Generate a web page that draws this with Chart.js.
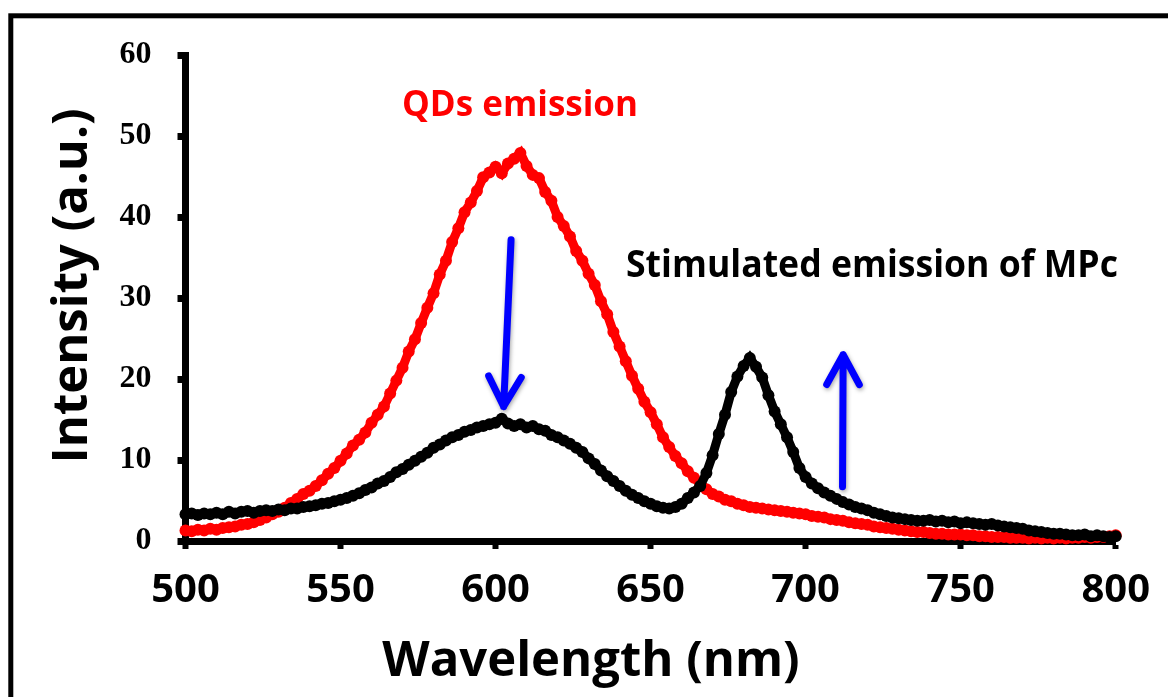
<!DOCTYPE html>
<html>
<head>
<meta charset="utf-8">
<script src="https://cdn.jsdelivr.net/npm/chart.js@4.4.1/dist/chart.umd.min.js"></script>
<style>
  html, body { margin: 0; padding: 0; background: #fff; }
  canvas { display: block; }
</style>
</head>
<body>
<canvas id="myChart" width="1168" height="697"></canvas>
<script>
// wavelength (nm), one reading every 2 nm
let wavelength = [
  500, 502, 504, 506, 508, 510, 512, 514, 516, 518,
  520, 522, 524, 526, 528, 530, 532, 534, 536, 538,
  540, 542, 544, 546, 548, 550, 552, 554, 556, 558,
  560, 562, 564, 566, 568, 570, 572, 574, 576, 578,
  580, 582, 584, 586, 588, 590, 592, 594, 596, 598,
  600, 602, 604, 606, 608, 610, 612, 614, 616, 618,
  620, 622, 624, 626, 628, 630, 632, 634, 636, 638,
  640, 642, 644, 646, 648, 650, 652, 654, 656, 658,
  660, 662, 664, 666, 668, 670, 672, 674, 676, 678,
  680, 682, 684, 686, 688, 690, 692, 694, 696, 698,
  700, 702, 704, 706, 708, 710, 712, 714, 716, 718,
  720, 722, 724, 726, 728, 730, 732, 734, 736, 738,
  740, 742, 744, 746, 748, 750, 752, 754, 756, 758,
  760, 762, 764, 766, 768, 770, 772, 774, 776, 778,
  780, 782, 784, 786, 788, 790, 792, 794, 796, 798,
  800
];

// QDs alone (red)
let qdsEmission = [
  1.3, 1.2, 1.4, 1.3, 1.5, 1.4, 1.6, 1.7, 1.8, 2.0,
  2.1, 2.3, 2.6, 2.9, 3.3, 3.6, 4.1, 4.7, 5.2, 5.8,
  6.2, 6.8, 7.5, 8.3, 9.0, 9.9, 10.8, 11.8, 12.5, 13.4,
  14.6, 15.6, 16.6, 18.2, 19.8, 21.4, 23.4, 24.9, 26.9, 28.8,
  30.6, 32.9, 34.6, 36.9, 38.6, 40.6, 41.8, 43.2, 44.9, 45.5,
  46.2, 45.4, 46.6, 47.2, 47.9, 46.3, 45.2, 44.8, 43.1, 42.0,
  40.0, 38.9, 37.6, 35.8, 34.6, 33.0, 31.6, 29.6, 28.0, 25.8,
  24.0, 22.2, 20.4, 18.8, 17.2, 15.9, 14.4, 12.8, 11.6, 10.5,
  9.6, 8.6, 7.8, 7.1, 6.4, 5.8, 5.5, 5.1, 4.9, 4.6,
  4.4, 4.2, 4.1, 4.0, 3.9, 3.8, 3.7, 3.6, 3.5, 3.4,
  3.3, 3.1, 3.0, 2.9, 2.7, 2.6, 2.5, 2.3, 2.2, 2.1,
  2.0, 1.8, 1.7, 1.6, 1.5, 1.4, 1.3, 1.2, 1.1, 1.1,
  1.0, 0.9, 0.9, 0.8, 0.8, 0.8, 0.7, 0.7, 0.6, 0.6,
  0.5, 0.5, 0.5, 0.4, 0.4, 0.4, 0.3, 0.4, 0.3, 0.4,
  0.3, 0.4, 0.3, 0.4, 0.4, 0.5, 0.4, 0.5, 0.5, 0.6,
  0.7
];

// QDs + MPc (black)
let mixEmission = [
  3.3, 3.4, 3.2, 3.4, 3.3, 3.5, 3.3, 3.6, 3.4, 3.6,
  3.7, 3.5, 3.7, 3.8, 3.7, 3.9, 3.8, 4.0, 4.0, 4.2,
  4.3, 4.4, 4.6, 4.7, 4.9, 5.1, 5.3, 5.6, 5.9, 6.3,
  6.6, 7.1, 7.4, 7.9, 8.5, 8.9, 9.4, 9.9, 10.4, 10.9,
  11.5, 11.9, 12.4, 12.8, 13.1, 13.5, 13.7, 14.0, 14.2, 14.4,
  14.6, 15.1, 14.5, 14.2, 14.4, 14.0, 14.2, 13.8, 13.6, 13.1,
  12.8, 12.4, 12.0, 11.5, 11.0, 10.2, 9.5, 8.7, 8.0, 7.4,
  6.8, 6.2, 5.7, 5.3, 4.9, 4.6, 4.3, 4.1, 4.0, 4.2,
  4.6, 5.3, 6.0, 6.8, 8.4, 10.6, 13.2, 15.6, 18.4, 20.3,
  21.6, 22.6, 21.5, 20.2, 18.0, 16.0, 14.4, 12.8, 11.0, 9.0,
  7.9, 7.1, 6.5, 6.0, 5.6, 5.2, 4.8, 4.5, 4.2, 4.0,
  3.8, 3.5, 3.3, 3.1, 2.9, 2.8, 2.7, 2.6, 2.5, 2.5,
  2.6, 2.4, 2.5, 2.3, 2.4, 2.2, 2.3, 2.2, 2.1, 2.0,
  2.1, 1.9, 1.8, 1.7, 1.6, 1.5, 1.3, 1.2, 1.1, 1.0,
  0.9, 0.9, 0.8, 0.7, 0.7, 0.8, 0.6, 0.7, 0.6, 0.5,
  0.6
];

let xTicks = [500, 550, 600, 650, 700, 750, 800];
let yTicks = [0, 10, 20, 30, 40, 50, 60];

// blue arrows, [x0, y0, x1, y1] in data units, tail -> head
let arrowDown = [605.0, 37.2, 602.6, 16.6];
let arrowUp = [711.9, 6.7, 712.1, 23.0];

let canvas = document.getElementById("myChart")
let ctx = canvas.getContext("2d")

function pts(ys) {
    return wavelength.map((x, i) => ({ x: x, y: ys[i] }));
}

function drawArrow(c, chart, a) {
    let xs = chart.scales.x, ys = chart.scales.y;
    let x0 = xs.getPixelForValue(a[0]), y0 = ys.getPixelForValue(a[1]);
    let x1 = xs.getPixelForValue(a[2]), y1 = ys.getPixelForValue(a[3]);
    let ang = Math.atan2(y1 - y0, x1 - x0);
    let head = 34, spread = 0.5;
    c.save();
    c.strokeStyle = "#0000ff";
    c.lineWidth = 7;
    c.lineCap = "round";
    c.lineJoin = "round";
    c.shadowColor = "rgba(0,0,0,0.35)";
    c.shadowBlur = 4;
    c.shadowOffsetX = 1;
    c.shadowOffsetY = 2;
    c.beginPath();
    c.moveTo(x0, y0);
    c.lineTo(x1, y1);
    c.moveTo(x1 - head * Math.cos(ang - spread), y1 - head * Math.sin(ang - spread));
    c.lineTo(x1, y1);
    c.lineTo(x1 - head * Math.cos(ang + spread), y1 - head * Math.sin(ang + spread));
    c.stroke();
    c.restore();
}

let decor = {
    id: "decor",
    beforeDraw(chart) {
        let c = chart.ctx;
        c.save();
        c.fillStyle = "#fff";
        c.fillRect(0, 0, chart.width, chart.height);
        // outer frame, runs off the right and bottom edges
        c.strokeStyle = "#000";
        c.lineWidth = 5;
        c.strokeRect(10.8, 15.8, 1400, 900);
        c.restore();
    },
    afterDraw(chart) {
        let c = chart.ctx;
        c.save();
        c.fillStyle = "#000";
        c.textAlign = "center";
        c.textBaseline = "alphabetic";
        c.font = 'bold 49px "Open Sans"';
        c.fillText("Wavelength (nm)", 591, 676, 418);

        c.save();
        c.translate(87, 286);
        c.rotate(-Math.PI / 2);
        c.fillText("Intensity (a.u.)", 0, 0, 378);
        c.restore();

        c.textAlign = "left";
        c.font = 'bold 36px "Open Sans"';
        c.fillStyle = "#ff0000";
        c.fillText("QDs emission", 402, 116, 236);
        c.fillStyle = "#000";
        c.font = 'bold 37px "Open Sans"';
        c.fillText("Stimulated emission of MPc", 626, 276.5, 492);
        c.restore();

        drawArrow(c, chart, arrowDown);
        drawArrow(c, chart, arrowUp);
    }
};

let data = {
    datasets: [
        {
            label: "QDs + MPc",
            data: pts(mixEmission),
            order: 0,
            borderColor: "#000",
            backgroundColor: "#000",
            borderWidth: 9,
            pointRadius: 6,
            pointBorderWidth: 0,
            showLine: true,
            tension: 0,
            clip: false
        },
        {
            label: "QDs",
            data: pts(qdsEmission),
            order: 1,
            borderColor: "#ff0000",
            backgroundColor: "#ff0000",
            borderWidth: 9,
            pointRadius: 6,
            pointBorderWidth: 0,
            showLine: true,
            tension: 0,
            clip: false
        }]
};

let options = {
    responsive: false,
    animation: false,
    devicePixelRatio: 1,
    layout: {
        padding: { left: 0, top: 55, right: 47, bottom: 0 }
    },
    plugins: {
        legend: { display: false },
        tooltip: { enabled: false }
    },
    scales: {
        x: {
            type: "linear",
            min: 500,
            max: 800,
            afterBuildTicks: s => { s.ticks = xTicks.map(v => ({ value: v })); },
            afterFit: s => { s.height = 156; },
            grid: {
                drawOnChartArea: false,
                drawTicks: true,
                tickLength: 8,
                tickWidth: 6,
                tickColor: "#000"
            },
            border: { display: true, color: "#000", width: 7 },
            ticks: {
                color: "#000",
                padding: 18,
                maxRotation: 0,
                font: { family: "Open Sans", weight: "bold", size: 40 }
            }
        },
        y: {
            min: 0,
            max: 60,
            afterBuildTicks: s => { s.ticks = yTicks.map(v => ({ value: v })); },
            afterFit: s => { s.width = 185.5; },
            grid: {
                drawOnChartArea: false,
                drawTicks: true,
                tickLength: 8,
                tickWidth: 7,
                tickColor: "#000"
            },
            border: { display: true, color: "#000", width: 7 },
            ticks: {
                color: "#000",
                padding: 26,
                font: { family: "Liberation Serif", weight: "bold", size: 32 }
            }
        }
    }
};

let myChart = new Chart(ctx, {
    type: "scatter",
    data: data,
    options: options,
    plugins: [decor]
})
</script>
</body>
</html>
